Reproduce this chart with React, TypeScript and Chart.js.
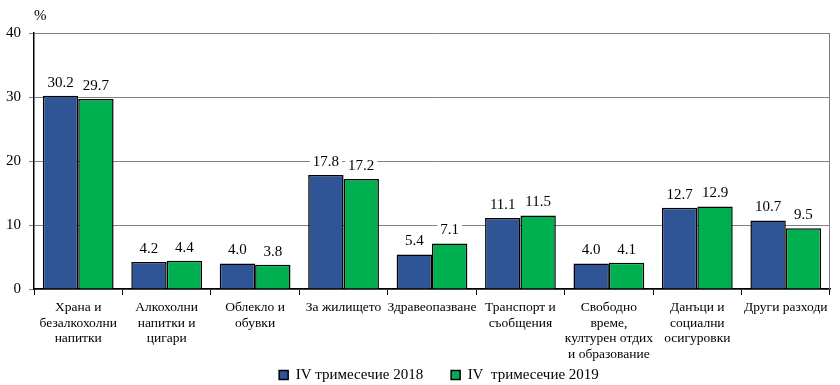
import React, { useEffect, useRef } from "react";
import { Chart, registerables } from "chart.js";

Chart.register(...registerables);

const categories: (string | string[])[] = [
  ["Храна и", "безалкохолни", "напитки"],
  ["Алкохолни", "напитки и", "цигари"],
  ["Облекло и", "обувки"],
  "За жилището",
  "Здравеопазване",
  ["Транспорт и", "съобщения"],
  ["Свободно", "време,", "културен отдих", "и образование"],
  ["Данъци и", "социални", "осигуровки"],
  "Други разходи",
];

const series2018 = [30.2, 4.2, 4.0, 17.8, 5.4, 11.1, 4.0, 12.7, 10.7];
const series2019 = [29.7, 4.4, 3.8, 17.2, 7.1, 11.5, 4.1, 12.9, 9.5];

const label2018 = "IV тримесечие 2018";
const label2019 = "IV  тримесечие 2019";

const FONT = "'Liberation Serif', 'Times New Roman', serif";

const labelsPlugin = {
  id: "valueLabels",
  afterLayout(chart: any) {
    const lg = chart.legend;
    if (lg) {
      lg.left += 24;
      lg.right += 24;
    }
    const xs = chart.scales.x;
    if (xs) {
      xs.bottom = chart.height;
    }
  },
  beforeDatasetsDraw(chart: any) {
    const { ctx, chartArea } = chart;
    ctx.save();
    ctx.strokeStyle = "#808080";
    ctx.lineWidth = 1;
    ctx.beginPath();
    const x = Math.round(chartArea.right) - 0.5;
    ctx.moveTo(x, chartArea.top);
    ctx.lineTo(x, chartArea.bottom);
    ctx.stroke();
    ctx.restore();
  },
  afterDatasetsDraw(chart: any) {
    const ctx = chart.ctx;
    ctx.save();
    ctx.font = `15px ${FONT}`;
    ctx.textAlign = "center";
    ctx.textBaseline = "middle";
    chart.data.datasets.forEach((ds: any, di: number) => {
      const meta = chart.getDatasetMeta(di);
      meta.data.forEach((bar: any, i: number) => {
        const txt = Number(ds.data[i]).toFixed(1);
        const w = ctx.measureText(txt).width;
        const cy = bar.y - 14;
        ctx.fillStyle = "#ffffff";
        ctx.fillRect(bar.x - w / 2 - 3, cy - 8, w + 6, 16);
        ctx.fillStyle = "#000000";
        ctx.fillText(txt, bar.x, cy + 1);
      });
    });
    ctx.font = `15px ${FONT}`;
    ctx.textAlign = "left";
    ctx.fillText("%", 34, 16);
    ctx.restore();
  },
};

export default function App() {
  const ref = useRef<HTMLCanvasElement>(null);
  useEffect(() => {
    document.body.style.margin = "0";
    const chart = new Chart(ref.current!, {
      type: "bar",
      data: {
        labels: categories,
        datasets: [
          {
            label: label2018,
            data: series2018,
            backgroundColor: "#2F5597",
            borderColor: "#000000",
            borderWidth: 1.5,
            categoryPercentage: 0.8,
            barPercentage: 1.0,
          },
          {
            label: label2019,
            data: series2019,
            backgroundColor: "#00B050",
            borderColor: "#000000",
            borderWidth: 1.5,
            categoryPercentage: 0.8,
            barPercentage: 1.0,
          },
        ],
      },
      options: {
        animation: false,
        responsive: false,
        maintainAspectRatio: false,
        layout: { padding: { left: 0, right: 10, top: 33, bottom: 0 } },
        plugins: {
          tooltip: { enabled: false },
          legend: {
            position: "bottom",
            maxHeight: 45.5,
            labels: {
              font: { family: FONT, size: 15 },
              color: "#000",
              boxWidth: 9,
              boxHeight: 9,
              padding: 28,
            },
          },
        },
        scales: {
          x: {
            afterFit: (s: any) => {
              s.height = 50.5;
            },
            grid: {
              offset: true,
              drawOnChartArea: false,
              tickLength: 6,
              color: "#000",
              lineWidth: 1,
            },
            border: { color: "#000", width: 1.5 },
            ticks: {
              autoSkip: false,
              maxRotation: 0,
              color: "#000",
              padding: 5,
              font: { family: FONT, size: 13.5, lineHeight: 1.15 },
            },
          },
          y: {
            min: 0,
            max: 40,
            afterFit: (s: any) => {
              s.width = 34;
            },
            ticks: {
              stepSize: 10,
              color: "#000",
              padding: 8,
              font: { family: FONT, size: 15 },
            },
            grid: {
              color: "#808080",
              lineWidth: 1,
              tickLength: 5,
            },
            border: { color: "#000", width: 1.5 },
          },
        },
      },
      plugins: [labelsPlugin],
    });
    return () => chart.destroy();
  }, []);
  return (
    <div style={{ position: "absolute", left: 0, top: 0, width: 840, height: 385 }}>
      <canvas ref={ref} width={840} height={385} style={{ width: 840, height: 385 }} />
    </div>
  );
}
